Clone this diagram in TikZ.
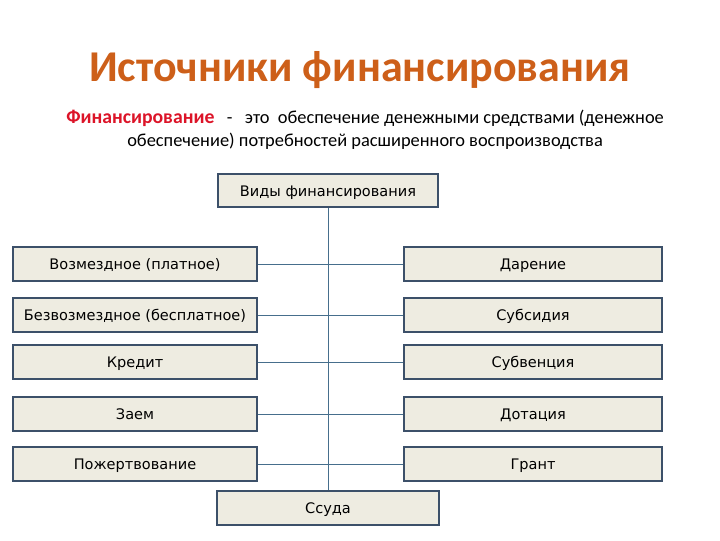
\documentclass[tikz,border=0pt]{standalone}
\usepackage{fontspec}
\setmainfont{Carlito}
\newfontfamily\boxfont{DejaVu Sans}
\usepackage{xcolor}
\usetikzlibrary{positioning}
\definecolor{titleorange}{RGB}{205,95,25}
\definecolor{defred}{RGB}{220,20,40}
\definecolor{boxedge}{RGB}{60,80,105}
\definecolor{boxfill}{RGB}{238,236,225}
\definecolor{linkblue}{RGB}{70,110,140}
\tikzstyle{kbox}=[rectangle, draw=boxedge, line width=1.5pt, fill=boxfill,
  font=\boxfont\fontsize{10.9}{12}\selectfont, text=black, text centered,
  text height=9pt, text depth=0.6pt,
  minimum height=25.5pt, inner sep=0pt]
\tikzstyle{lbox}=[kbox, minimum width=183pt]
\tikzstyle{rbox}=[kbox, minimum width=193.5pt]
\tikzstyle{link}=[line width=0.7pt, color=linkblue]

\begin{document}
\begin{tikzpicture}[x=0.75pt, y=-0.75pt]
    \useasboundingbox (0,0) rectangle (720,540);
    \node[font=\bfseries\fontsize{33}{38}\selectfont, text=titleorange]
      (title) at (360,70) {Источники финансирования};
    \node[font=\fontsize{13.8}{17.3}\selectfont, align=center]
      (defn) at (365,129.5) {{\fontsize{14.8}{17.3}\selectfont\bfseries\color{defred}Финансирование}\ \ \ -\ \ \ это\ \ обеспечение денежными средствами (денежное\\
      обеспечение) потребностей расширенного воспроизводства};
    \node[kbox, minimum width=165pt, minimum height=24.75pt]
      (kinds) at (328,190.5) {Виды финансирования};
    % left column
    \node[lbox] (paid) at (135,264) {Возмездное (платное)};
    \node[lbox] (free) at (135,315) {Безвозмездное (бесплатное)};
    \node[lbox] (credit) at (135,362) {Кредит};
    \node[lbox] (loan) at (135,414) {Заем};
    \node[lbox] (donation) at (135,464) {Пожертвование};
    % right column
    \node[rbox] (gift) at (533,264) {Дарение};
    \node[rbox] (subsidy) at (533,315) {Субсидия};
    \node[rbox] (subvention) at (533,362) {Субвенция};
    \node[rbox] (dotation) at (533,414) {Дотация};
    \node[rbox] (grant) at (533,464) {Грант};
    \node[kbox, minimum width=166.5pt] (ssuda) at (328,508) {Ссуда};
    \draw[link] (kinds.south)--(ssuda.north);
    \draw[link] (paid.east)--(gift.west);
    \draw[link] (free.east)--(subsidy.west);
    \draw[link] (credit.east)--(subvention.west);
    \draw[link] (loan.east)--(dotation.west);
    \draw[link] (donation.east)--(grant.west);
  \end{tikzpicture}
\end{document}
